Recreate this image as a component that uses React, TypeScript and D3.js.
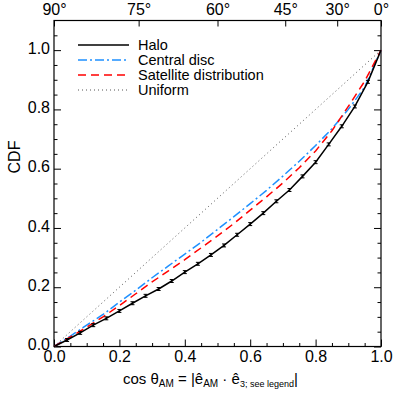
import { useRef, useEffect } from 'react';
import * as d3 from 'd3';

// cos(theta) sample points and CDF values
const haloX = [0, 0.04, 0.08, 0.12, 0.16, 0.2, 0.24, 0.28, 0.32, 0.36, 0.4, 0.44, 0.48, 0.52, 0.56, 0.6, 0.64, 0.68, 0.72, 0.76, 0.8, 0.84, 0.88, 0.92, 0.96, 1.0];
const haloCdf = [0, 0.022, 0.046, 0.072, 0.095, 0.12, 0.146, 0.171, 0.194, 0.221, 0.251, 0.279, 0.309, 0.341, 0.377, 0.413, 0.45, 0.49, 0.528, 0.574, 0.622, 0.682, 0.743, 0.81, 0.893, 1.0];
const haloErr = [0, 0.005, 0.005, 0.005, 0.005, 0.005, 0.005, 0.005, 0.005, 0.005, 0.005, 0.005, 0.005, 0.005, 0.005, 0.005, 0.005, 0.005, 0.005, 0.005, 0.005, 0.005, 0.005, 0.005, 0.005, 0];

const discX = [0, 0.05, 0.1, 0.15, 0.2, 0.25, 0.3, 0.35, 0.4, 0.45, 0.5, 0.55, 0.6, 0.65, 0.7, 0.75, 0.8, 0.85, 0.9, 0.95, 1.0];
const discCdf = [0, 0.035, 0.072, 0.108, 0.15, 0.19, 0.232, 0.272, 0.312, 0.352, 0.395, 0.438, 0.482, 0.527, 0.575, 0.625, 0.678, 0.735, 0.8, 0.875, 1.0];
const satCdf = [0, 0.032, 0.065, 0.1, 0.138, 0.178, 0.218, 0.255, 0.293, 0.333, 0.373, 0.415, 0.46, 0.505, 0.552, 0.603, 0.66, 0.728, 0.81, 0.895, 1.0];

const uniformX = [0, 1];
const uniformCdf = [0, 1];

const xTicks = [0, 0.2, 0.4, 0.6, 0.8, 1.0];
const yTicks = [0, 0.2, 0.4, 0.6, 0.8, 1.0];
const minorTicks = [0.05, 0.1, 0.15, 0.25, 0.3, 0.35, 0.45, 0.5, 0.55, 0.65, 0.7, 0.75, 0.85, 0.9, 0.95, 1.05];
const angleTicks = [90, 75, 60, 45, 30, 0];

const legendNames = ['Halo', 'Central disc', 'Satellite distribution', 'Uniform'];

const font = '"Liberation Sans", Arial, Helvetica, sans-serif';

const App = () => {
  const ref = useRef(null);

  useEffect(() => {
    const svg = d3.select(ref.current);
    svg.selectAll('*').remove();

    const left = 54, right = 381, top = 20.5, bottom = 346.5;

    const x = d3.scaleLinear().domain([0, 1]).range([left, right]);
    const y = d3.scaleLinear().domain([0, 1.1]).range([bottom, top]);

    const styleAxis = (g) => {
      g.select('.domain').remove();
      g.selectAll('line').attr('stroke', '#000').attr('stroke-width', 1);
      g.selectAll('text').attr('fill', '#000').attr('font-size', 16).attr('font-family', font);
    };

    // bottom
    svg.append('g').attr('transform', `translate(0,${bottom})`)
      .call(d3.axisBottom(x).tickValues(xTicks).tickFormat(d3.format('.1f')).tickSizeInner(-7).tickSizeOuter(0).tickPadding(4))
      .call(styleAxis);
    svg.append('g').attr('transform', `translate(0,${bottom})`)
      .call(d3.axisBottom(x).tickValues(minorTicks.filter(d => d < 1)).tickFormat('').tickSizeInner(-3.5).tickSizeOuter(0))
      .call(styleAxis);

    // left
    svg.append('g').attr('transform', `translate(${left},0)`)
      .call(d3.axisLeft(y).tickValues(yTicks).tickFormat(d3.format('.1f')).tickSizeInner(-7).tickSizeOuter(0).tickPadding(4))
      .call(styleAxis)
      .call(g => g.selectAll('text').attr('dy', '0.2em'));
    svg.append('g').attr('transform', `translate(${left},0)`)
      .call(d3.axisLeft(y).tickValues(minorTicks).tickFormat('').tickSizeInner(-3.5).tickSizeOuter(0))
      .call(styleAxis);

    // right
    svg.append('g').attr('transform', `translate(${right},0)`)
      .call(d3.axisRight(y).tickValues(yTicks).tickFormat('').tickSizeInner(-7).tickSizeOuter(0))
      .call(styleAxis);
    svg.append('g').attr('transform', `translate(${right},0)`)
      .call(d3.axisRight(y).tickValues(minorTicks).tickFormat('').tickSizeInner(-3.5).tickSizeOuter(0))
      .call(styleAxis);

    // top: angle axis
    svg.append('g').attr('transform', `translate(0,${top})`)
      .call(d3.axisTop(x).tickValues(angleTicks.map(a => Math.cos(a * Math.PI / 180)))
        .tickFormat((d, i) => `${angleTicks[i]}°`).tickSizeInner(-6).tickSizeOuter(0).tickPadding(6))
      .call(styleAxis);

    // frame
    svg.append('rect')
      .attr('x', left).attr('y', top)
      .attr('width', right - left).attr('height', bottom - top)
      .attr('fill', 'none').attr('stroke', '#000').attr('stroke-width', 1.2);

    const line = d3.line().x(d => x(d[0])).y(d => y(d[1]));

    const plot = svg.append('g');

    plot.append('path')
      .datum(uniformX.map((v, i) => [v, uniformCdf[i]]))
      .attr('d', line).attr('fill', 'none')
      .attr('stroke', '#555').attr('stroke-width', 1).attr('stroke-dasharray', '1,3');

    plot.append('path')
      .datum(discX.map((v, i) => [v, discCdf[i]]))
      .attr('d', line).attr('fill', 'none')
      .attr('stroke', '#1e90ff').attr('stroke-width', 1.5).attr('stroke-dasharray', '9,3,2,3');

    plot.append('path')
      .datum(discX.map((v, i) => [v, satCdf[i]]))
      .attr('d', line).attr('fill', 'none')
      .attr('stroke', '#ff0000').attr('stroke-width', 1.5).attr('stroke-dasharray', '8,5');

    plot.append('path')
      .datum(haloX.map((v, i) => [v, haloCdf[i]]))
      .attr('d', line).attr('fill', 'none')
      .attr('stroke', '#000').attr('stroke-width', 1.5);

    // error bars on halo
    const bars = plot.selectAll('.err')
      .data(haloX.map((v, i) => ({ x: v, y: haloCdf[i], e: haloErr[i] })).filter(d => d.e > 0))
      .enter().append('g').attr('class', 'err');
    bars.append('line')
      .attr('x1', d => x(d.x)).attr('x2', d => x(d.x))
      .attr('y1', d => y(d.y - d.e)).attr('y2', d => y(d.y + d.e))
      .attr('stroke', '#000').attr('stroke-width', 1.5);
    bars.append('line')
      .attr('x1', d => x(d.x) - 2).attr('x2', d => x(d.x) + 2)
      .attr('y1', d => y(d.y - d.e)).attr('y2', d => y(d.y - d.e))
      .attr('stroke', '#000').attr('stroke-width', 1);
    bars.append('line')
      .attr('x1', d => x(d.x) - 2).attr('x2', d => x(d.x) + 2)
      .attr('y1', d => y(d.y + d.e)).attr('y2', d => y(d.y + d.e))
      .attr('stroke', '#000').attr('stroke-width', 1);

    // legend
    const legendStyles = [
      { stroke: '#000', dash: null, width: 1.5 },
      { stroke: '#1e90ff', dash: '9,3,2,3', width: 1.5 },
      { stroke: '#ff0000', dash: '8,5', width: 1.5 },
      { stroke: '#555', dash: '1,3', width: 1 },
    ];
    const legend = svg.append('g');
    legendNames.forEach((name, i) => {
      const ly = 45 + i * 15;
      legend.append('line')
        .attr('x1', 78).attr('x2', 129).attr('y1', ly).attr('y2', ly)
        .attr('stroke', legendStyles[i].stroke).attr('stroke-width', legendStyles[i].width)
        .attr('stroke-dasharray', legendStyles[i].dash);
      legend.append('text')
        .attr('x', 138).attr('y', ly + 5)
        .attr('font-size', 14.5).attr('font-family', font).text(name);
    });

    // y title
    svg.append('text')
      .attr('transform', 'translate(20,157) rotate(-90)')
      .attr('text-anchor', 'middle')
      .attr('font-size', 16).attr('font-family', font).text('CDF');

    // x title
    const xt = svg.append('text')
      .attr('x', 123).attr('y', 384)
      .attr('font-size', 15).attr('font-family', font);
    xt.append('tspan').text('cos θ');
    xt.append('tspan').attr('font-size', 10).attr('dy', 3).text('AM');
    xt.append('tspan').attr('dy', -3).text(' = |ê');
    xt.append('tspan').attr('font-size', 10).attr('dy', 3).text('AM');
    xt.append('tspan').attr('dy', -3).text(' · ê');
    xt.append('tspan').attr('font-size', 9).attr('dy', 3).text('3; see legend');
    xt.append('tspan').attr('dy', -3).text('|');
  }, []);

  return (
    <svg ref={ref} width={393} height={393} style={{ position: 'absolute', left: 0, top: 0, background: '#fff' }}></svg>
  );
};

export default App;
